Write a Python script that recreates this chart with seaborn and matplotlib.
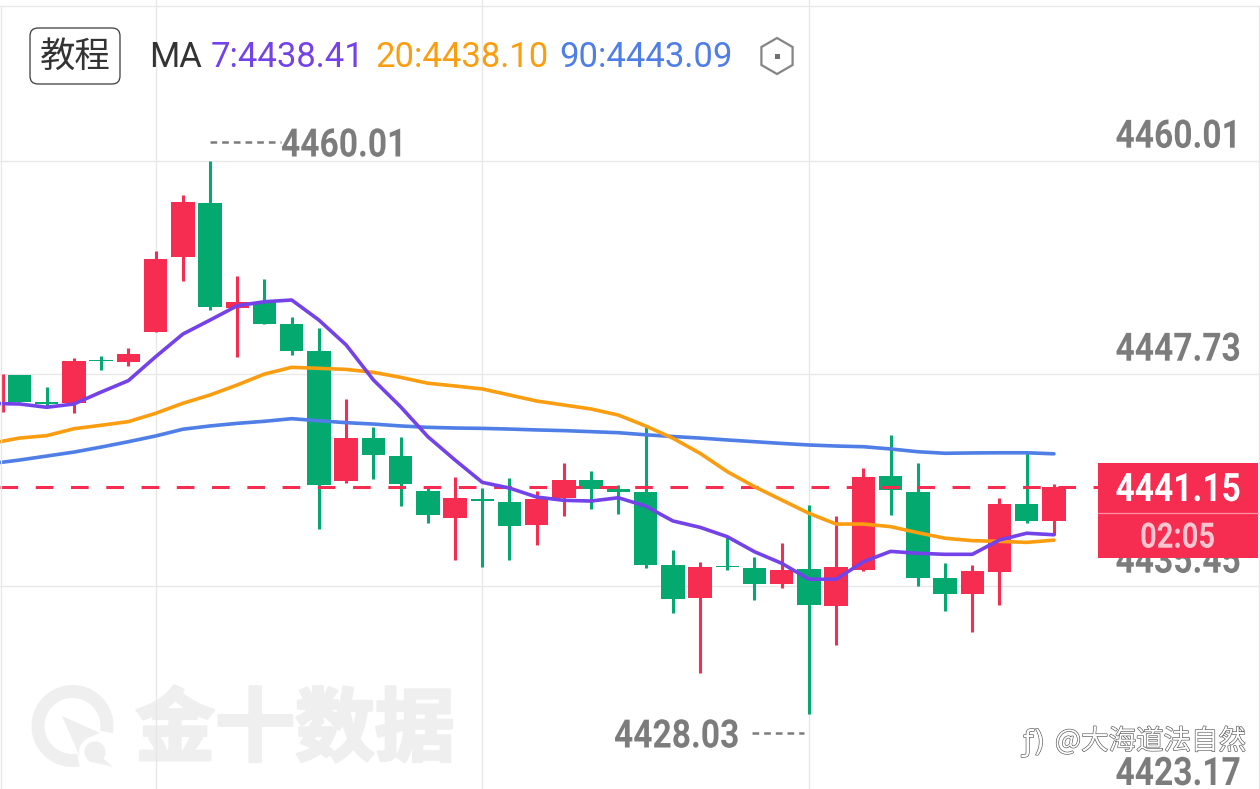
import matplotlib
matplotlib.use("Agg")
import matplotlib.pyplot as plt
import matplotlib.patheffects as pe
from matplotlib.patches import FancyBboxPatch, Rectangle, RegularPolygon, Wedge, Polygon, Circle
from matplotlib.transforms import Affine2D
import numpy as np
import pandas as pd
import seaborn as sns

# Candles: red closes above its open, green closes below it
opens = [4447.63, 4446.11, 4446.04, 4448.51, 4448.41, 4450.15, 4454.47, 4457.57, 4451.53, 4451.86,
         4450.58, 4449.03, 4441.52, 4443.99, 4442.96, 4440.94, 4439.36, 4440.46, 4440.30, 4438.96,
         4440.54, 4441.56, 4441.04, 4440.87, 4436.65, 4434.76, 4436.58, 4436.51, 4435.56, 4436.41,
         4434.29, 4436.39, 4441.82, 4440.88, 4435.89, 4435.00, 4436.26, 4440.17, 4439.21]
highs = [4447.67, 4446.97, 4448.61, 4448.74, 4449.19, 4454.81, 4458.07, 4460.01, 4453.38, 4453.18,
         4450.98, 4450.34, 4446.28, 4444.62, 4444.04, 4441.19, 4441.77, 4441.13, 4441.69, 4440.94,
         4442.58, 4442.10, 4441.29, 4444.66, 4437.51, 4436.84, 4438.30, 4437.11, 4437.95, 4440.13,
         4439.51, 4442.25, 4444.19, 4442.58, 4436.76, 4436.65, 4440.52, 4443.12, 4441.34]
lows = [4446.08, 4445.85, 4445.45, 4447.93, 4448.17, 4450.15, 4453.10, 4451.40, 4448.70, 4450.61,
        4448.82, 4438.76, 4441.39, 4441.63, 4440.06, 4439.11, 4436.93, 4436.56, 4436.93, 4437.80,
        4439.50, 4439.90, 4439.61, 4436.51, 4433.89, 4430.42, 4436.36, 4434.62, 4435.35, 4428.03,
        4432.04, 4436.33, 4439.55, 4435.47, 4434.00, 4432.81, 4434.35, 4439.07, 4438.40]
closes = [4446.08, 4445.99, 4448.47, 4448.47, 4448.86, 4454.33, 4457.63, 4451.58, 4451.85, 4450.61,
          4449.05, 4441.29, 4443.99, 4443.02, 4441.36, 4439.55, 4440.54, 4440.34, 4438.93, 4440.46,
          4441.58, 4441.06, 4440.88, 4436.68, 4434.72, 4436.53, 4436.55, 4435.56, 4436.39, 4434.33,
          4436.53, 4441.77, 4441.00, 4435.91, 4435.00, 4436.32, 4440.19, 4439.22, 4441.15]

# The candle cut off at the left edge shows only its wick
earlier_wick_high = 4447.70
earlier_wick_low = 4445.51

# Moving averages, starting one bar before the first full candle
ma7 = [4446.00, 4445.97, 4445.78, 4445.97, 4446.66, 4447.32, 4448.70, 4450.01, 4450.82, 4451.65,
       4451.88, 4451.98, 4450.82, 4449.38, 4447.36, 4445.81, 4444.08, 4442.73, 4441.44, 4441.11,
       4440.59, 4440.40, 4440.36, 4440.55, 4440.07, 4439.21, 4438.84, 4438.30, 4437.43, 4436.76,
       4435.84, 4435.84, 4436.85, 4437.45, 4437.34, 4437.28, 4437.28, 4438.11, 4438.50, 4438.41]
ma20 = [4443.71, 4444.00, 4444.14, 4444.54, 4444.74, 4444.95, 4445.43, 4446.01, 4446.49, 4447.07,
        4447.70, 4448.09, 4448.03, 4447.97, 4447.80, 4447.51, 4447.17, 4447.01, 4446.84, 4446.49,
        4446.14, 4445.91, 4445.68, 4445.33, 4444.70, 4443.99, 4443.12, 4442.06, 4441.19, 4440.42,
        4439.65, 4439.03, 4439.03, 4438.88, 4438.53, 4438.21, 4438.07, 4438.03, 4437.97, 4438.10]
ma90 = [4442.53, 4442.73, 4442.96, 4443.19, 4443.48, 4443.79, 4444.12, 4444.51, 4444.70, 4444.85,
        4444.97, 4445.12, 4445.00, 4444.89, 4444.81, 4444.70, 4444.62, 4444.58, 4444.56, 4444.52,
        4444.47, 4444.43, 4444.37, 4444.31, 4444.19, 4444.09, 4444.00, 4443.89, 4443.79, 4443.69,
        4443.60, 4443.54, 4443.50, 4443.37, 4443.21, 4443.12, 4443.14, 4443.15, 4443.15, 4443.09]

price_levels = [4460.01, 4447.73, 4435.45, 4423.17]
price_level_labels = ["4460.01", "4447.73", "4435.45", "4423.17"]
session_bars = [5, 17, 29]
last_price = 4441.15
last_price_label = "4441.15"
countdown_label = "02:05"
high_label = "4460.01"
low_label = "4428.03"
legend_labels = ["MA", "7:4438.41", "20:4438.10", "90:4443.09"]
brand_label = "金十数据"
handle_label = "@大海道法自然"
button_label = "教程"

RED = "#f62c50"
GREEN = "#03a96f"
PURPLE = "#7342e8"
ORANGE = "#fb9d10"
BLUE = "#4f7ee6"
GRID = "#e7e7e7"
GREY = "#7c7c7c"
CJK_FONT = ["Noto Sans CJK SC", "DejaVu Sans"]
XLIM = (-0.716, 45.57)
YLIM = (4423.716, 4469.32)


class NarrowGlyphs(pe.AbstractPathEffect):
    """Squeeze text horizontally about its origin, for a condensed numeric face."""

    def __init__(self, factor):
        super().__init__()
        self.factor = factor

    def draw_path(self, renderer, gc, tpath, affine, rgbFace=None):
        renderer.draw_path(gc, tpath, Affine2D().scale(self.factor, 1) + affine, rgbFace)


sns.set_theme(style="white")
plt.rcParams["font.family"] = ["Roboto", "Noto Sans CJK SC", "DejaVu Sans"]

fig = plt.figure(figsize=(12.6, 7.89), dpi=100, facecolor="white")


def pixel_axes(zorder):
    a = fig.add_axes([0, 0, 1, 1], zorder=zorder)
    a.set_xlim(0, 1260)
    a.set_ylim(789, 0)
    a.axis("off")
    return a


under = pixel_axes(0)
over = pixel_axes(2)

ax = fig.add_axes([0, 0, 1, 1], zorder=1)
ax.patch.set_alpha(0)
for s in ax.spines.values():
    s.set_visible(False)
ax.set_yticks(price_levels)
ax.set_xticks(session_bars)
ax.tick_params(length=0, labelbottom=False, labelleft=False)
ax.grid(True, color=GRID, lw=0.9)
ax.set_axisbelow(True)

# Candles
x = np.arange(len(opens))
colors = [RED if c >= o else GREEN for o, c in zip(opens, closes)]
ax.vlines(x, lows, highs, colors=colors, lw=2.2, zorder=3)
ax.vlines([-0.6], [earlier_wick_low], [earlier_wick_high], colors=RED, lw=2.2, zorder=3)
bottoms = np.minimum(opens, closes)
heights = np.abs(np.subtract(closes, opens))
ax.bar(x, heights, bottom=bottoms, width=0.86, color=colors, lw=0, zorder=3)

# Last-price line
ax.plot([XLIM[0], 39.62], [last_price, last_price], color=RED, lw=2.2,
        ls=(0, (5.77, 5.77)), dash_capstyle="butt", zorder=4)

# Moving averages
ma_frame = pd.DataFrame({
    "bar": np.tile(np.arange(-1, len(ma7) - 1), 3),
    "price": ma90 + ma20 + ma7,
    "period": ["90"] * len(ma90) + ["20"] * len(ma20) + ["7"] * len(ma7),
})
sns.lineplot(data=ma_frame, x="bar", y="price", hue="period", hue_order=["90", "20", "7"],
             palette={"90": BLUE, "20": ORANGE, "7": PURPLE}, estimator=None, sort=False,
             lw=2.6, legend=False, ax=ax, zorder=5)
ax.set_xlabel("")
ax.set_ylabel("")
ax.set_xlim(*XLIM)
ax.set_ylim(*YLIM)

# Frame lines of the plot area
over.plot([0, 1260], [6, 6], color=GRID, lw=0.9)
over.plot([1, 1], [6, 789], color=GRID, lw=0.9)
over.plot([1259, 1259], [6, 789], color=GRID, lw=0.9)

# Brand watermark
WM = "#efefef"
under.text(295, 731, brand_label, family=CJK_FONT, fontweight="bold", fontsize=57.5,
           color=WM, ha="center", va="center",
           path_effects=[pe.withStroke(linewidth=2.2, foreground=WM)])
under.add_patch(Wedge((72.5, 726), 41, 80, 370, width=13, color=WM, lw=0))
under.add_patch(Polygon([(62, 716), (100, 733), (88, 738), (80, 757)], color=WM, lw=0))
under.add_patch(Circle((94, 752), 15, color="white", lw=0))
under.add_patch(Circle((95, 752), 10.5, color=WM, lw=0))
under.add_patch(Polygon([(87, 744), (113, 767), (89, 761)], color=WM, lw=0))

# Condensed bold figures used for all price labels
price_kw = dict(fontweight="bold", fontsize=28.2, ha="left", va="baseline",
                path_effects=[NarrowGlyphs(0.857)])

for label, base in zip(price_level_labels, [147.7, 360.7, 572.7, 785]):
    over.text(1115.5, base, label, color=GREY, **price_kw)

# High and low markers
marker_dash = dict(color=GREY, lw=1.8, ls=(0, (2.67, 2)), dash_capstyle="butt")
over.text(281, 156.5, high_label, color=GREY, **price_kw)
over.plot([210, 281], [142, 142], **marker_dash)
over.text(614, 747.5, low_label, color=GREY, **price_kw)
over.plot([752, 804], [733, 733], **marker_dash)

# Last-price tag
over.add_patch(Rectangle((1098, 463), 160, 95, color=RED, lw=0, zorder=6))
over.plot([1098, 1258], [512.7, 512.7], color="#fb8fa3", lw=0.9, zorder=7)
over.text(1115.5, 501, last_price_label, color="white", zorder=7, **price_kw)
over.text(1140, 547.7, countdown_label, fontweight="bold", fontsize=25.3, color="#fcc4cf",
          ha="left", va="baseline", zorder=7, path_effects=[NarrowGlyphs(0.83)])

# Header: button, moving-average readout and settings icon
over.add_patch(FancyBboxPatch((30, 28), 90, 56, boxstyle="round,pad=0,rounding_size=8",
                              fc="white", ec="#3a3a3a", lw=0.9))
over.text(75, 57, button_label, family=CJK_FONT, fontsize=25.5, color="#333333",
          ha="center", va="center")
legend_colors = ["#333333", PURPLE, ORANGE, BLUE]
for label, color, px in zip(legend_labels, legend_colors, [149, 211, 375, 559]):
    over.text(px, 66.7, label, family="Roboto", fontsize=24.9, color=color,
              ha="left", va="baseline")
over.add_patch(RegularPolygon((777, 56), 6, radius=18, fc="none", ec="#858585", lw=1.6))
over.add_patch(Rectangle((774.5, 53.5), 5, 5, color="#707070", lw=0))

# Repost credit in outlined white lettering
outline = [pe.withStroke(linewidth=0.9, foreground="#555555")]
over.text(1246, 741, handle_label, family=CJK_FONT, fontsize=19.8, color="white",
          ha="right", va="center", path_effects=outline, zorder=8)
over.text(1034, 743, "ƒ)", family="DejaVu Sans", fontsize=21, color="white",
          ha="center", va="center", path_effects=outline, zorder=8)

fig.savefig("out.png", dpi=100)
